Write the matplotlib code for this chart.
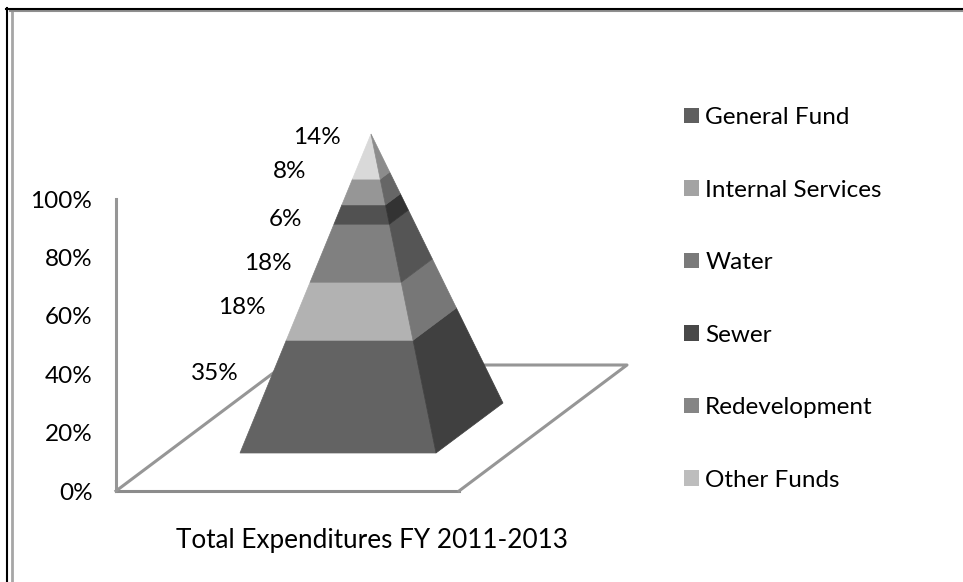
import matplotlib
matplotlib.use("Agg")
from matplotlib import pyplot as plt
from matplotlib.patches import Patch, Polygon

W, H = 963, 582

segments = ["Other Funds", "Redevelopment", "Sewer", "Water", "Internal Services", "General Fund"]
shares = [35, 18, 18, 6, 8, 14]
share_labels = ["35%", "18%", "18%", "6%", "8%", "14%"]
front_colors = ["#636363", "#b2b2b2", "#808080", "#515151", "#969696", "#d9d9d9"]
side_colors = ["#404040", "#777777", "#555555", "#333333", "#666666", "#8c8c8c"]

legend_names = ["General Fund", "Internal Services", "Water", "Sewer", "Redevelopment", "Other Funds"]
legend_colors = ["#5f5f5f", "#a3a3a3", "#7a7a7a", "#484848", "#858585", "#bdbdbd"]

y_ticks = [0, 20, 40, 60, 80, 100]
x_title = "Total Expenditures FY 2011-2013"

# label spots in pixels
label_xy = [(215, 374), (242, 308), (268, 263), (285, 219), (290, 171), (317, 137)]

plt.rcParams["font.family"] = ["Lato", "DejaVu Sans"]
FS = 17.5
GREY = "#969696"

fig = plt.figure(figsize=(W / 100, H / 100), dpi=100)

# value axis, left and bottom spines are the chart walls
ax = fig.add_axes([116 / W, (H - 491) / H, 343 / W, 292 / H])
ax.set_xlim(0, 1)
ax.set_ylim(0, 100)
ax.set_yticks(y_ticks)
ax.set_yticklabels([f"{t}%" for t in y_ticks], fontsize=FS, color="black")
ax.set_xticks([])
ax.tick_params(axis="y", length=0, pad=17)
ax.set_xlabel(x_title, fontsize=18.8)
ax.xaxis.set_label_coords(0.746, -0.128)
for s in ["top", "right"]:
    ax.spines[s].set_visible(False)
for s in ["left", "bottom"]:
    ax.spines[s].set_color(GREY)
    ax.spines[s].set_linewidth(2.2)
ax.spines["bottom"].set_color("#8c8c8c")

# pixel overlay for the pyramid
over = fig.add_axes([0, 0, 1, 1])
over.set_xlim(0, W)
over.set_ylim(H, 0)
over.axis("off")
over.patch.set_alpha(0)

# floor
over.plot([459, 627, 284], [491, 365, 365], color=GREY, lw=2.2, zorder=1)
over.plot([116, 284], [491, 365], color=GREY, lw=2.2, zorder=1)

# page frame, only top and left show
over.plot([7, 7], [H, 8], color="black", lw=1.5, zorder=5)
over.plot([6, W], [9, 9], color="black", lw=1.5, zorder=5)
over.plot([11.5, 11.5], [H, 11], color="#a6a6a6", lw=2.0, zorder=4)
over.plot([10, W], [11, 11], color="#8f8f8f", lw=1.5, zorder=4)

apex = (371, 134)
front_l = (240, 453)
front_r = (436, 453)
back_r = (503, 403)


def along(p, t):
    return (p[0] + (apex[0] - p[0]) * t, p[1] + (apex[1] - p[1]) * t)


total = sum(shares)
cum = 0
for share, fc, sc, txt, xy in zip(shares, front_colors, side_colors, share_labels, label_xy):
    a = cum / total
    b = (cum + share) / total
    over.add_patch(Polygon([along(front_l, a), along(front_r, a), along(front_r, b), along(front_l, b)],
                           facecolor=fc, edgecolor=fc, lw=0.5, zorder=2))
    over.add_patch(Polygon([along(front_r, a), along(back_r, a), along(back_r, b), along(front_r, b)],
                           facecolor=sc, edgecolor=sc, lw=0.5, zorder=2))
    over.text(xy[0], xy[1], txt, fontsize=FS, ha="center", va="center", zorder=3)
    cum += share

handles = [Patch(facecolor=c, edgecolor="none") for c in legend_colors]
over.legend(handles, legend_names, loc="upper left", bbox_to_anchor=(684 / W, 1 - 107 / H),
            frameon=False, fontsize=FS, handlelength=0.62, handleheight=0.62,
            handletextpad=0.25, labelspacing=2.12, borderpad=0, borderaxespad=0)

fig.savefig("out.png", dpi=100)
